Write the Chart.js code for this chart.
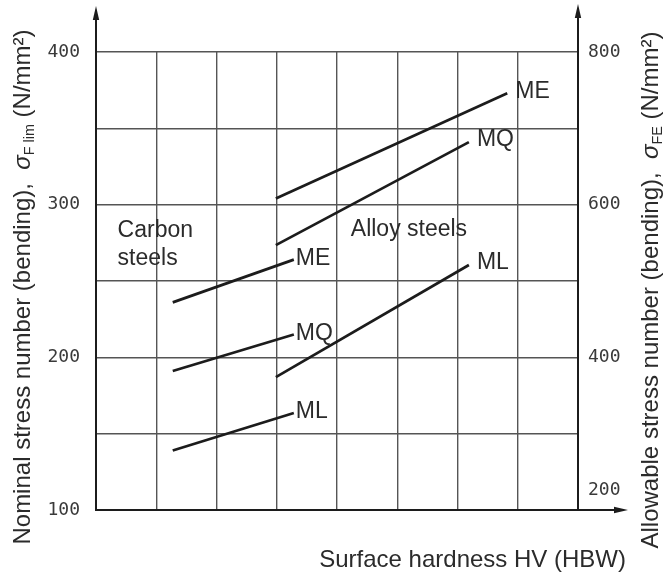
<!DOCTYPE html>
<html>
<head>
<meta charset="utf-8">
<script src="https://cdn.jsdelivr.net/npm/chart.js@4.4.1/dist/chart.umd.min.js"></script>
<style>
  html, body { margin: 0; padding: 0; background: #ffffff; }
  #wrap { width: 665px; height: 577px; }
</style>
</head>
<body>
<div id="wrap"><canvas id="chart" width="665" height="577"></canvas></div>
<script>
// Surface hardness HV at the two ends of each line
const carbonHardness = [114, 215];
const alloyHardnessME = [200, 393];
const alloyHardnessMQ = [200, 361];
const alloyHardnessML = [200, 361];

// Nominal stress number (bending), sigma_F lim in N/mm²
const carbonME = [236, 264];
const carbonMQ = [191, 215];
const carbonML = [139, 163.5];
const alloyME = [304, 373];
const alloyMQ = [273.5, 341];
const alloyML = [187, 260.5];

// Material quality grade written at the end of each line
const curveLabels = ['ME', 'MQ', 'ML', 'ME', 'MQ', 'ML'];

// Labelled ticks
const hardnessTicks = [100, 200, 300, 400];
const nominalTicks = [100, 200, 300, 400];
const allowableTicks = [200, 400, 600, 800];

const INK = '#1c1c1c';
const TEXT = '#2b2b2b';
const TICK_TEXT = '#3a3a3a';
const GRID = '#555555';
const SANS = '"Liberation Sans", Arial, sans-serif';
const MONO = '"DejaVu Sans Mono", monospace';

function pairs(xs, ys) {
  return xs.map((x, i) => ({ x: x, y: ys[i] }));
}

const seriesList = [
  pairs(carbonHardness, carbonME),
  pairs(carbonHardness, carbonMQ),
  pairs(carbonHardness, carbonML),
  pairs(alloyHardnessME, alloyME),
  pairs(alloyHardnessMQ, alloyMQ),
  pairs(alloyHardnessML, alloyML)
];

const datasets = seriesList.map((pts, i) => ({
  label: curveLabels[i],
  data: pts,
  showLine: true,
  borderColor: INK,
  borderWidth: 2.7,
  pointRadius: 0,
  pointHoverRadius: 0,
  fill: false,
  tension: 0
}));

// Draws text made of normal, italic and subscript pieces, centred on (cx, cy)
function richParts(ctx, parts, size) {
  return parts.map(([txt, kind]) => {
    const s = kind === 's' ? size * 0.6 : size;
    const font = (kind === 'i' ? 'italic ' : '') + s + 'px ' + SANS;
    ctx.font = font;
    return { txt, kind, font, w: ctx.measureText(txt).width };
  });
}
function drawRich(ctx, parts, cx, cy, size, align) {
  const items = richParts(ctx, parts, size);
  const total = items.reduce((a, p) => a + p.w, 0);
  let x = align === 'right' ? cx - total : cx - total / 2;
  const base = cy + size * 0.36;
  ctx.textAlign = 'left';
  ctx.textBaseline = 'alphabetic';
  items.forEach(p => {
    ctx.font = p.font;
    ctx.fillText(p.txt, x, p.kind === 's' ? base + size * 0.2 : base);
    x += p.w;
  });
}

function arrowHead(ctx, tipX, tipY, dir) {
  const len = 14, half = 3.2;
  ctx.beginPath();
  if (dir === 'up') {
    ctx.moveTo(tipX, tipY);
    ctx.lineTo(tipX - half, tipY + len);
    ctx.lineTo(tipX + half, tipY + len);
  } else {
    ctx.moveTo(tipX, tipY);
    ctx.lineTo(tipX - len, tipY - half);
    ctx.lineTo(tipX - len, tipY + half);
  }
  ctx.closePath();
  ctx.fill();
}

const decorations = {
  id: 'decorations',
  afterDatasetsDraw(chart) {
    const { ctx, chartArea: a, scales } = chart;
    ctx.save();

    // axis lines continued beyond the grid, ending in arrows
    ctx.strokeStyle = INK;
    ctx.fillStyle = INK;
    ctx.lineWidth = 2;
    ctx.beginPath();
    ctx.moveTo(a.left, a.top); ctx.lineTo(a.left, 12);
    ctx.moveTo(a.right, a.top); ctx.lineTo(a.right, 10);
    ctx.moveTo(a.right, a.bottom); ctx.lineTo(620, a.bottom);
    ctx.stroke();
    arrowHead(ctx, a.left, 6, 'up');
    arrowHead(ctx, a.right, 4, 'up');
    arrowHead(ctx, 628, a.bottom, 'right');

    // grade label at the end of each line (alloy labels sit a little clear of the line)
    ctx.fillStyle = TEXT;
    ctx.font = '23px ' + SANS;
    ctx.textAlign = 'left';
    ctx.textBaseline = 'middle';
    chart.data.datasets.forEach((ds, i) => {
      const pts = chart.getDatasetMeta(i).data;
      const end = pts[pts.length - 1];
      const gap = i < 3 ? 2 : 8;
      const lift = i < 3 ? 1 : 2;
      ctx.fillText(curveLabels[i], end.x + gap, end.y - lift);
    });

    // material group names
    const sx = scales.x, sy = scales.y;
    ctx.fillText('Carbon', sx.getPixelForValue(68), sy.getPixelForValue(283));
    ctx.fillText('steels', sx.getPixelForValue(68), sy.getPixelForValue(264.5));
    ctx.fillText('Alloy steels', sx.getPixelForValue(262.5), sy.getPixelForValue(283.5));

    // axis titles
    ctx.fillStyle = TEXT;
    drawRich(ctx, [['Surface hardness HV (HBW)', 'n']], 626, 558, 24, 'right');

    ctx.save();
    ctx.translate(21, 287);
    ctx.rotate(-Math.PI / 2);
    drawRich(ctx, [
      ['Nominal stress number (bending),  ', 'n'],
      ['\u03C3', 'i'],
      ['F lim', 's'],
      [' (N/mm\u00B2)', 'n']
    ], 0, 0, 24, 'center');
    ctx.restore();

    ctx.save();
    ctx.translate(649, 290);
    ctx.rotate(-Math.PI / 2);
    drawRich(ctx, [
      ['Allowable stress number (bending),  ', 'n'],
      ['\u03C3', 'i'],
      ['FE', 's'],
      [' (N/mm\u00B2)', 'n']
    ], 0, 0, 24, 'center');
    ctx.restore();

    ctx.restore();
  }
};

const tickFont = { family: MONO, size: 18 };

new Chart(document.getElementById('chart'), {
  type: 'scatter',
  data: { datasets: datasets },
  options: {
    responsive: false,
    animation: false,
    devicePixelRatio: 1,
    layout: { padding: { top: 52, left: 0, right: 0, bottom: 0 } },
    plugins: { legend: { display: false }, tooltip: { enabled: false }, title: { display: false } },
    scales: {
      x: {
        type: 'linear',
        position: 'bottom',
        min: 50,
        max: 452,
        afterFit: s => { s.height = 67; },
        ticks: {
          stepSize: 50,
          autoSkip: false,
          maxRotation: 0,
          padding: 12,
          color: TICK_TEXT,
          font: tickFont,
          callback: v => hardnessTicks.includes(v) ? String(v) : ''
        },
        grid: {
          drawTicks: false,
          lineWidth: 1.4,
          color: c => (c.tick && c.tick.value > 50 && c.tick.value < 450) ? GRID : 'rgba(0,0,0,0)'
        },
        border: { display: true, color: INK, width: 2 }
      },
      y: {
        type: 'linear',
        position: 'left',
        min: 100,
        max: 400,
        afterFit: s => { s.width = 96; },
        ticks: {
          stepSize: 50,
          autoSkip: false,
          padding: 16,
          color: TICK_TEXT,
          font: tickFont,
          callback: v => nominalTicks.includes(v) ? String(v) : ''
        },
        grid: {
          drawTicks: false,
          lineWidth: 1.4,
          color: c => (c.tick && c.tick.value > 100) ? GRID : 'rgba(0,0,0,0)'
        },
        border: { display: true, color: INK, width: 2 }
      },
      y2: {
        type: 'linear',
        position: 'right',
        min: 200,
        max: 800,
        afterFit: s => { s.width = 87; },
        ticks: {
          stepSize: 200,
          autoSkip: false,
          padding: 10,
          color: TICK_TEXT,
          font: { family: MONO, size: 18, lineHeight: 2.2 },
          callback: v => allowableTicks.includes(v) ? (v === 200 ? ['200', ''] : String(v)) : ''
        },
        grid: { display: false, drawTicks: false },
        border: { display: true, color: INK, width: 2 }
      }
    }
  },
  plugins: [decorations]
});
</script>
</body>
</html>
